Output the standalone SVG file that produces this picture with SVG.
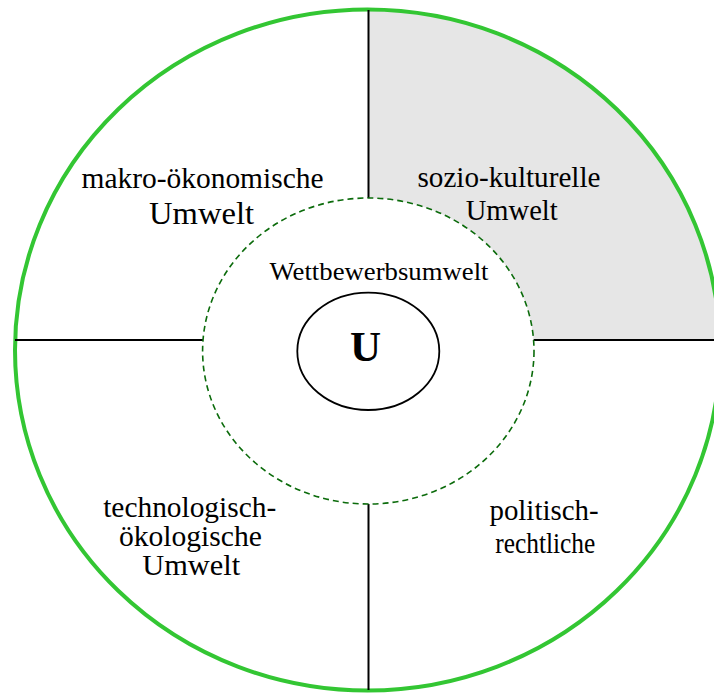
<svg xmlns="http://www.w3.org/2000/svg" width="714" height="695" viewBox="0 0 714 695">
  <style>
    .lbl { font-family: "Liberation Serif", "Times New Roman", serif; fill: #000; text-anchor: middle; }
    .sep { stroke: #000; stroke-width: 2; fill: none; }
  </style>
  <rect x="0" y="0" width="714" height="695" fill="#fff"/>
  <g id="makrooekonomische-umwelt">
    <text class="lbl" x="202.5" y="188" font-size="29" textLength="242" lengthAdjust="spacingAndGlyphs">makro-ökonomische</text>
    <text class="lbl" x="201.5" y="224" font-size="31" textLength="105" lengthAdjust="spacingAndGlyphs">Umwelt</text>
  </g>
  <g id="soziokulturelle-umwelt">
    <path d="M368.5,340 V9.5 A352.5,340.5 0 0 1 719.85,340 Z" fill="#e6e6e6"/>
    <text class="lbl" x="509" y="187" font-size="29" textLength="183" lengthAdjust="spacingAndGlyphs">sozio-kulturelle</text>
    <text class="lbl" x="511.7" y="220" font-size="29" textLength="92" lengthAdjust="spacingAndGlyphs">Umwelt</text>
  </g>
  <g id="technologisch-oekologische-umwelt">
    <text class="lbl" x="189.7" y="517" font-size="29" textLength="173" lengthAdjust="spacingAndGlyphs">technologisch-</text>
    <text class="lbl" x="190.4" y="546" font-size="29" textLength="143" lengthAdjust="spacingAndGlyphs">ökologische</text>
    <text class="lbl" x="191.2" y="575" font-size="29" textLength="98" lengthAdjust="spacingAndGlyphs">Umwelt</text>
  </g>
  <g id="politisch-rechtliche-umwelt">
    <text class="lbl" x="544" y="520" font-size="29" textLength="109" lengthAdjust="spacingAndGlyphs">politisch-</text>
    <text class="lbl" x="545.3" y="553" font-size="29" textLength="100" lengthAdjust="spacingAndGlyphs">rechtliche</text>
  </g>
  <g id="outer-boundary">
    <ellipse cx="367.5" cy="350" rx="352.5" ry="340.5" fill="none" stroke="#33c633" stroke-width="4"/>
  </g>
  <g id="connectors">
    <line class="sep" x1="368.5" y1="10" x2="368.5" y2="198.5"/>
    <line class="sep" x1="368.5" y1="503.5" x2="368.5" y2="690"/>
    <line class="sep" x1="15" y1="340" x2="203" y2="340"/>
    <line class="sep" x1="533.5" y1="340" x2="714" y2="340"/>
  </g>
  <g id="wettbewerbsumwelt">
    <ellipse cx="368.3" cy="351" rx="165.7" ry="153" fill="#fff" stroke="#0b6b0b" stroke-width="1.6" stroke-dasharray="6,4"/>
    <text class="lbl" x="379" y="280" font-size="26" textLength="219" lengthAdjust="spacingAndGlyphs">Wettbewerbsumwelt</text>
  </g>
  <g id="unternehmen">
    <ellipse cx="368.3" cy="351.3" rx="71" ry="58.7" fill="#fff" stroke="#000" stroke-width="1.8"/>
    <text class="lbl" x="365.5" y="361" font-size="43" font-weight="bold">U</text>
  </g>
</svg>
